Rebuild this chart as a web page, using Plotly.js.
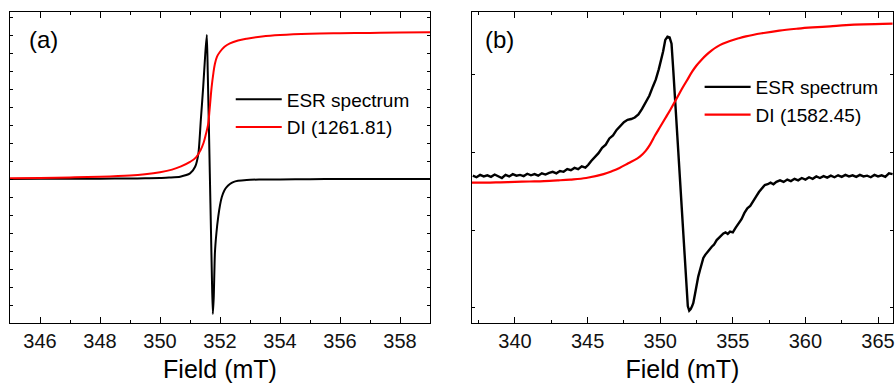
<!DOCTYPE html>
<html>
<head>
<meta charset="utf-8">
<script src="https://cdn.plot.ly/plotly-3.0.1.min.js"></script>
<style>html,body{margin:0;padding:0;background:#fff;}#chart{width:896px;height:387px;}</style>
</head>
<body>
<div id="chart"></div>
<script>
// Panel (a)
const fieldA_esr = [345, 346, 347, 348, 349, 349.5, 350, 350.3, 350.67, 351.0, 351.17, 351.28, 351.36, 351.44, 351.51, 351.56, 351.59, 351.63, 351.66, 351.7, 351.73, 351.76, 351.79, 351.83, 351.88, 351.94, 352.0, 352.06, 352.14, 352.22, 352.33, 352.44, 352.6, 352.89, 353.3, 354, 355, 356, 357, 358, 359];
const esrA = [0, 0.01, 0.01, 0.02, 0.03, 0.04, 0.05, 0.08, 0.13, 0.31, 0.68, 1.43, 3.28, 5.13, 7.0, 8.0, 6.0, 2.8, 0.3, -3.0, -5.5, -7.5, -6.6, -4.1, -3.0, -2.1, -1.45, -1.0, -0.65, -0.45, -0.28, -0.17, -0.1, -0.05, -0.03, -0.02, -0.01, 0, 0, 0, 0];
const fieldA_di = [345, 346, 347, 348, 349, 349.5, 350, 350.4, 350.7, 351.0, 351.2, 351.35, 351.45, 351.53, 351.6, 351.66, 351.72, 351.78, 351.83, 351.9, 352.0, 352.15, 352.33, 352.6, 352.89, 353.4, 354, 355, 356, 357, 358, 359];
const diA = [0.04, 0.06, 0.09, 0.13, 0.2, 0.27, 0.38, 0.52, 0.7, 0.95, 1.2, 1.6, 2.0, 2.5, 3.0, 4.0, 5.1, 5.9, 6.4, 6.8, 7.07, 7.35, 7.54, 7.7, 7.8, 7.92, 8.0, 8.07, 8.1, 8.12, 8.14, 8.15];

// Panel (b)
const fieldB_esr = [337.1, 337.35, 337.6, 337.85, 338.1, 338.35, 338.6, 338.85, 339.1, 339.35, 339.6, 339.85, 340.1, 340.35, 340.6, 340.85, 341.1, 341.35, 341.6, 341.85, 342.1, 342.35, 342.6, 342.85, 343.1, 343.35, 343.6, 343.85, 344.1, 344.35, 344.6, 344.85, 345.05, 345.25, 345.5, 345.75, 346.0, 346.25, 346.5, 346.75, 347.0, 347.25, 347.5, 347.75, 348.0, 348.25, 348.5, 348.75, 349.0, 349.25, 349.5, 349.7, 349.9, 350.06, 350.2, 350.35, 350.5, 350.65, 350.78, 350.9, 351.0, 351.1, 351.2, 351.3, 351.4, 351.5, 351.6, 351.7, 351.8, 351.9, 352.0, 352.1, 352.2, 352.28, 352.4, 352.51, 352.62, 352.74, 352.85, 352.97, 353.1, 353.25, 353.4, 353.55, 353.7, 353.89, 354.05, 354.2, 354.35, 354.5, 354.65, 354.81, 355.0, 355.2, 355.4, 355.6, 355.8, 356.0, 356.2, 356.4, 356.6, 356.8, 357.0, 357.2, 357.4, 357.6, 357.8, 358.0, 358.25, 358.5, 358.75, 359.0, 359.25, 359.5, 359.75, 360.0, 360.25, 360.5, 360.75, 361.0, 361.25, 361.5, 361.75, 362.0, 362.25, 362.5, 362.75, 363.0, 363.25, 363.5, 363.75, 364.0, 364.25, 364.5, 364.75, 365.0, 365.25, 365.5, 365.75, 366.0];
const esrB = [7.0, 6.8, 7.1, 6.9, 7.05, 6.85, 7.15, 6.95, 6.7, 7.1, 6.9, 7.2, 7.0, 7.1, 6.95, 7.25, 7.05, 7.2, 7.0, 7.3, 7.15, 7.35, 7.5, 7.3, 7.6, 7.5, 7.85, 7.7, 8.0, 7.85, 8.2, 8.05, 8.4, 8.9, 9.45, 9.9, 10.6, 11.0, 11.8, 12.2, 12.9, 13.4, 13.9, 14.2, 14.3, 14.5, 14.9, 15.6, 16.4, 17.3, 18.5, 19.4, 20.7, 21.9, 23.0, 24.5, 24.9, 24.8, 24.0, 20.6, 17.4, 14.4, 11.3, 8.2, 4.9, 1.6, -1.7, -4.9, -8.1, -9.8, -10.4, -10.2, -9.8, -9.4, -8.2, -6.9, -6.0, -5.15, -4.3, -3.6, -3.2, -2.9, -2.5, -2.15, -1.9, -1.3, -1.0, -0.6, -0.45, -0.3, -0.5, -0.2, -0.3, 0.3, 0.8, 1.4, 2.2, 2.8, 3.1, 3.8, 4.3, 4.9, 5.4, 5.8, 5.9, 6.1, 5.9, 6.2, 6.4, 6.2, 6.5, 6.3, 6.6, 6.4, 6.7, 6.5, 6.8, 6.6, 6.9, 6.7, 6.95, 6.75, 7.0, 6.8, 7.05, 6.85, 7.1, 6.9, 7.05, 6.85, 7.1, 6.9, 7.0, 6.8, 7.1, 6.9, 7.05, 6.85, 7.3, 7.2];
const fieldB_di = [337.04, 338, 339, 340, 341, 342, 343, 343.8, 344.9, 346.1, 346.7, 347.2, 347.8, 348.4, 348.6, 349.0, 349.3, 349.65, 350.0, 350.35, 350.7, 351.15, 351.5, 351.85, 352.2, 352.5, 352.85, 353.2, 353.55, 353.9, 354.3, 354.8, 355.4, 355.9, 357.0, 358.2, 359.5, 360.5, 361.7, 362.8, 364, 366];
const diB = [6.1, 6.1, 6.15, 6.2, 6.25, 6.3, 6.4, 6.5, 6.7, 7.2, 7.6, 8.0, 8.6, 9.2, 9.45, 10.2, 11.0, 12.2, 13.3, 14.4, 15.5, 17.0, 18.2, 19.3, 20.4, 21.2, 21.95, 22.6, 23.15, 23.6, 24.0, 24.35, 24.7, 24.95, 25.35, 25.7, 25.95, 26.1, 26.25, 26.4, 26.5, 26.6];

const legendA = ['ESR spectrum', 'DI (1261.81)'];
const legendB = ['ESR spectrum', 'DI (1582.45)'];
const xTitle = 'Field (mT)';

const FONT = 'Arial, "Liberation Sans", sans-serif';

const traces = [
  {x: fieldA_esr, y: esrA, type: 'scatter', mode: 'lines', name: legendA[0], line: {color: '#000000', width: 2, shape: 'spline', smoothing: 0.6}, xaxis: 'x', yaxis: 'y', legend: 'legend'},
  {x: fieldA_di, y: diA, type: 'scatter', mode: 'lines', name: legendA[1], line: {color: '#ff0000', width: 2, shape: 'spline'}, xaxis: 'x', yaxis: 'y', legend: 'legend'},
  {x: fieldB_esr, y: esrB, type: 'scatter', mode: 'lines', name: legendB[0], line: {color: '#000000', width: 2.4}, xaxis: 'x2', yaxis: 'y2', legend: 'legend2'},
  {x: fieldB_di, y: diB, type: 'scatter', mode: 'lines', name: legendB[1], line: {color: '#ff0000', width: 2.2, shape: 'spline'}, xaxis: 'x2', yaxis: 'y2', legend: 'legend2'}
];

const axCommon = {
  showline: true, linecolor: '#000', linewidth: 1, mirror: 'ticks',
  ticks: 'inside', tickcolor: '#000', tickwidth: 1,
  showgrid: false, zeroline: false,
  tickfont: {family: FONT, size: 20, color: '#111'}
};

const layout = {
  width: 896, height: 387,
  margin: {l: 10, r: 3, t: 12, b: 64},
  paper_bgcolor: '#fff', plot_bgcolor: '#fff',
  font: {family: FONT, color: '#000'},
  xaxis: Object.assign({}, axCommon, {
    domain: [0, 0.4757], range: [345, 359], tick0: 346, dtick: 2, ticklen: 6,
    minor: {ticks: 'inside', ticklen: 3, dtick: 1, tick0: 345, tickcolor: '#000', showgrid: false},
    anchor: 'y',
    title: {text: xTitle, font: {family: FONT, size: 25, color: '#000'}, standoff: 9}
  }),
  yaxis: Object.assign({}, axCommon, {
    domain: [0, 1], range: [-8, 9.28], dtick: 1, tick0: 0, ticklen: 3, showticklabels: false, anchor: 'x'
  }),
  xaxis2: Object.assign({}, axCommon, {
    domain: [0.5232, 1], range: [337.04, 366.03], tick0: 340, dtick: 5, ticklen: 6,
    minor: {ticks: 'inside', ticklen: 3, dtick: 2.5, tick0: 337.5, tickcolor: '#000', showgrid: false},
    anchor: 'y2',
    title: {text: xTitle, font: {family: FONT, size: 25, color: '#000'}, standoff: 9}
  }),
  yaxis2: Object.assign({}, axCommon, {
    domain: [0, 1], range: [-11.98, 28.09], dtick: 10, tick0: 0, ticklen: 3, showticklabels: false, anchor: 'x2'
  }),
  showlegend: true,
  legend: {x: 0.250, y: 0.78, xanchor: 'left', yanchor: 'top', bgcolor: 'rgba(0,0,0,0)', font: {family: FONT, size: 19, color: '#000'}, tracegroupgap: 0, itemwidth: 46},
  legend2: {x: 0.781, y: 0.82, xanchor: 'left', yanchor: 'top', bgcolor: 'rgba(0,0,0,0)', font: {family: FONT, size: 19, color: '#000'}, tracegroupgap: 0, itemwidth: 46},
  annotations: [
    {text: '(a)', xref: 'x domain', yref: 'y domain', x: 0.04, y: 0.913, xanchor: 'left', yanchor: 'middle', showarrow: false, font: {family: FONT, size: 24, color: '#000'}},
    {text: '(b)', xref: 'x2 domain', yref: 'y2 domain', x: 0.027, y: 0.913, xanchor: 'left', yanchor: 'middle', showarrow: false, font: {family: FONT, size: 24, color: '#000'}}
  ]
};

Plotly.newPlot('chart', traces, layout, {displayModeBar: false, staticPlot: true});
</script>
</body>
</html>
